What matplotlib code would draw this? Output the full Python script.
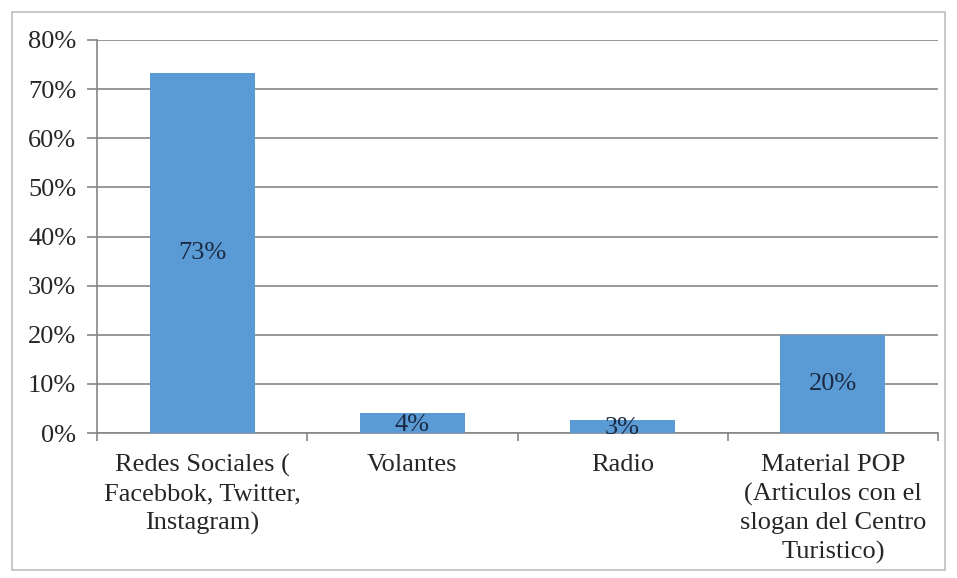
import matplotlib
matplotlib.use("Agg")
import matplotlib.pyplot as plt
from matplotlib.patches import Rectangle

categories = ["Redes Sociales (\nFacebbok, Twitter,\nInstagram)", "Volantes", "Radio",
              "Material POP\n(Articulos con el\nslogan del Centro\nTuristico)"]
values = [0.733, 0.04, 0.027, 0.20]
labels = ["73%", "4%", "3%", "20%"]
yticks = [0.0, 0.1, 0.2, 0.3, 0.4, 0.5, 0.6, 0.7, 0.8]
ytick_labels = ["0%", "10%", "20%", "30%", "40%", "50%", "60%", "70%", "80%"]

FS = 19
plt.rcParams['font.family'] = ['Liberation Serif', 'DejaVu Serif']
fig = plt.figure(figsize=(9.57, 5.78), dpi=100)
ax = fig.add_axes([97/957, 1 - 433/578, (938 - 97)/957, (433 - 40)/578])

fig.patches.append(Rectangle((12/957, 8/578), (945 - 12)/957, (570 - 12)/578,
                             transform=fig.transFigure, fill=False,
                             edgecolor="#bfbfbf", linewidth=1.2))

x = list(range(len(categories)))
ax.bar(x, values, width=0.5, color="#5B9BD5", zorder=3)
for xi, v, lab in zip(x, values, labels):
    ax.text(xi, v / 2 if v > 0.1 else v / 2 - 0.003, lab, ha="center", va="center",
            fontsize=FS, color="#1c2b45", zorder=4)

ax.set_xlim(-0.5, len(categories) - 0.5)
ax.set_ylim(0, 0.8)
ax.set_yticks(yticks)
ax.set_yticklabels(ytick_labels, fontsize=FS, color="#262626")
ax.yaxis.grid(True, color="#868686", linewidth=1.2, zorder=0)
ax.set_axisbelow(True)

ax.set_xticks([i - 0.5 for i in range(len(categories) + 1)], minor=False)
ax.set_xticklabels([])
ax.set_xticks(x, minor=True)
ax.set_xticklabels(categories, minor=True, fontsize=FS, color="#262626", linespacing=1.38)
ax.tick_params(axis="x", which="minor", length=0, pad=15)
ax.tick_params(axis="x", which="major", length=6, color="#868686", width=1.2)
ax.tick_params(axis="y", length=7, color="#868686", width=1.2, pad=8)

for s in ["top", "right"]:
    ax.spines[s].set_visible(False)
for s in ["left", "bottom"]:
    ax.spines[s].set_color("#868686")
    ax.spines[s].set_linewidth(1.2)

fig.savefig("out.png", dpi=100)
